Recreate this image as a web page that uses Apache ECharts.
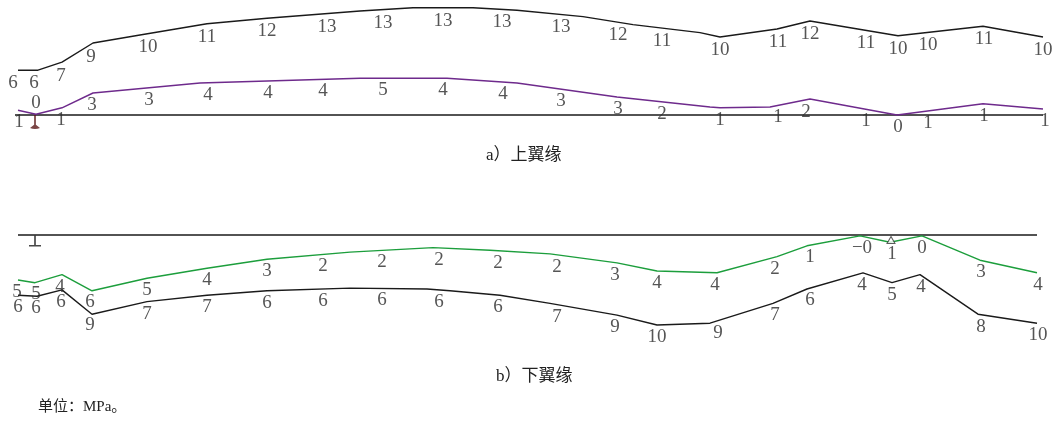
<!DOCTYPE html>
<html><head><meta charset="utf-8">
<script src="https://cdn.jsdelivr.net/npm/echarts@6/dist/echarts.min.js"></script>
<style>html,body{margin:0;padding:0;background:#fff}#c{width:1059px;height:445px}</style>
</head><body><div id="c"></div>
<script>
// ---- Data (stress in MPa along the girder; station units along the span) ----
// a) upper flange — maximum envelope (black)
const upperMaxStations = [18,38,62,93,140,207,267,360,413,473,517,583,633,700,720,777,810,898,983,1043];
const upperMaxValues   = [5.6,5.6,6.6,9.0,10.0,11.4,12.1,13.0,13.4,13.4,13.1,12.3,11.3,10.3,9.75,10.75,11.75,9.9,11.1,9.75];
const upperMaxLabelStations = [13,34,61,91,148,207,267,327,383,443,502,561,618,662,720,778,810,866,898,928,984,1043];
const upperMaxLabels        = ['6','6','7','9','10','11','12','13','13','13','13','13','12','11','10','11','12','11','10','10','11','10'];
// a) upper flange — minimum envelope (purple)
const upperMinStations = [18,36,62,93,200,360,447,517,617,710,720,770,810,897,983,1043];
const upperMinValues   = [0.6,0.1,0.9,2.75,4.0,4.6,4.6,4.0,2.25,1.0,0.9,1.0,2.0,0.0,1.4,0.75];
const upperMinLabelStations = [19,36,61,92,149,208,268,323,383,443,503,561,618,662,720,778,806,866,898,928,984,1045];
const upperMinLabels        = ['1','0','1','3','3','4','4','4','5','4','4','3','3','2','1','1','2','1','0','1','1','1'];
// b) lower flange — green envelope
const lowerMinStations = [18,35,62,92,147,207,267,350,433,490,550,617,657,717,777,807,860,890,922,980,1037];
const lowerMinValues   = [5.0,5.3,4.4,6.2,4.8,3.7,2.7,1.9,1.4,1.7,2.1,3.1,4.0,4.2,2.4,1.2,0.1,0.8,0.1,2.8,4.2];
const lowerMinLabelStations = [17,36,60,90,147,207,267,323,382,439,498,557,615,657,715,775,810,862,892,922,981,1038];
const lowerMinLabels        = ['5','5','4','6','5','4','3','2','2','2','2','2','3','4','4','2','1','−0','1','0','3','4'];
// b) lower flange — black envelope
const lowerMaxStations = [18,37,62,92,147,207,267,350,427,450,500,550,617,657,710,773,807,863,892,920,978,1037];
const lowerMaxValues   = [6.7,6.8,6.1,8.8,7.4,6.7,6.2,5.9,6.0,6.2,6.7,7.6,8.9,10.0,9.8,7.6,6.0,4.2,5.3,4.4,8.8,9.8];
const lowerMaxLabelStations = [18,36,61,90,147,207,267,323,382,439,498,557,615,657,718,775,810,862,892,921,981,1038];
const lowerMaxLabels        = ['6','6','6','9','7','7','6','6','6','6','6','7','9','10','9','7','6','4','5','4','8','10'];
// girder axis and supports
const upperBeamEnds = [15, 1043];
const lowerBeamEnds = [18, 1037];
const upperSupportStations = [35];
const lowerFixedSupportStations = [35];
const lowerRollerSupportStations = [891];
const titles = ['a）上翼缘', 'b）下翼缘'];
const unitNote = '单位：MPa。';

// ---- helpers ----
function interp(xs, ys, x) {
  if (x <= xs[0]) return ys[0];
  if (x >= xs[xs.length - 1]) return ys[ys.length - 1];
  for (let i = 1; i < xs.length; i++) {
    if (x <= xs[i]) {
      const t = (x - xs[i - 1]) / (xs[i] - xs[i - 1]);
      return ys[i - 1] + t * (ys[i] - ys[i - 1]);
    }
  }
}
const pair = (xs, ys) => xs.map((x, i) => [x, ys[i]]);
const labelFont = { fontFamily: 'Liberation Serif, serif', fontSize: 19, color: '#2a2a2a' };

function lineSeries(idx, xs, ys, color) {
  return { type: 'line', xAxisIndex: idx, yAxisIndex: idx, data: pair(xs, ys),
    symbol: 'none', clip: false, lineStyle: { color: color, width: 1.4 }, z: 3 };
}
function labelSeries(idx, lxs, texts, xs, ys, offset, above) {
  above = above || [];
  return { type: 'scatter', xAxisIndex: idx, yAxisIndex: idx, symbolSize: 1, clip: false, z: 5,
    itemStyle: { color: 'rgba(0,0,0,0)' },
    data: lxs.map((x, i) => ({ value: [x, interp(xs, ys, x)],
      label: { offset: [0, above.indexOf(i) >= 0 ? -11 : offset] } })),
    label: Object.assign({ show: true, position: 'inside',
      formatter: p => texts[p.dataIndex] }, labelFont) };
}

const chart = echarts.init(document.getElementById('c'), null, { renderer: 'canvas' });
const hiddenX = { type: 'value', min: 0, max: 1059, show: false, splitLine: { show: false } };
const titleFont = 'Liberation Serif, Noto Sans CJK SC';

chart.setOption({
  animation: false,
  backgroundColor: '#fff',
  grid: [
    { left: 0, right: 0, top: 3, height: 136 },
    { left: 0, right: 0, top: 217, height: 126 }
  ],
  xAxis: [Object.assign({ gridIndex: 0 }, hiddenX), Object.assign({ gridIndex: 1 }, hiddenX)],
  yAxis: [
    { gridIndex: 0, type: 'value', min: -3, max: 14, show: false, splitLine: { show: false } },
    { gridIndex: 1, type: 'value', min: -2, max: 12, inverse: true, show: false, splitLine: { show: false } }
  ],
  series: [
    // girder axes
    { type: 'line', xAxisIndex: 0, yAxisIndex: 0, data: upperBeamEnds.map(x => [x, 0]), symbol: 'none',
      lineStyle: { color: '#1a1a1a', width: 1.4 }, z: 2 },
    { type: 'line', xAxisIndex: 1, yAxisIndex: 1, data: lowerBeamEnds.map(x => [x, 0]), symbol: 'none',
      lineStyle: { color: '#1a1a1a', width: 1.4 }, z: 2 },
    // envelopes
    lineSeries(0, upperMaxStations, upperMaxValues, '#1a1a1a'),
    lineSeries(0, upperMinStations, upperMinValues, '#6e2a8c'),
    lineSeries(1, lowerMinStations, lowerMinValues, '#1c9e3c'),
    lineSeries(1, lowerMaxStations, lowerMaxValues, '#1a1a1a'),
    // value labels
    labelSeries(0, upperMaxLabelStations, upperMaxLabels, upperMaxStations, upperMaxValues, 13),
    labelSeries(0, upperMinLabelStations, upperMinLabels, upperMinStations, upperMinValues, 12, [1]),
    labelSeries(1, lowerMinLabelStations, lowerMinLabels, lowerMinStations, lowerMinValues, 12),
    labelSeries(1, lowerMaxLabelStations, lowerMaxLabels, lowerMaxStations, lowerMaxValues, 12),
    // supports
    { type: 'scatter', xAxisIndex: 0, yAxisIndex: 0, clip: false, z: 6,
      data: upperSupportStations.map(x => [x, 0]),
      symbol: 'path://M4.3,0 H5.7 V9 L9,12 Q5,14 1,12 L4.3,9 Z', symbolSize: [10, 14], symbolOffset: [0, 7],
      itemStyle: { color: '#5a1616' } },
    { type: 'scatter', xAxisIndex: 1, yAxisIndex: 1, clip: false, z: 6,
      data: lowerFixedSupportStations.map(x => [x, 0]),
      symbol: 'path://M4.3,0 H5.7 V9 H10 V10.4 H0 V9 H4.3 Z', symbolSize: [12, 11], symbolOffset: [0, 6],
      itemStyle: { color: '#1a1a1a' } },
    { type: 'scatter', xAxisIndex: 1, yAxisIndex: 1, clip: false, z: 6,
      data: lowerRollerSupportStations.map(x => [x, 0]),
      symbol: 'triangle', symbolSize: [8, 7], symbolOffset: [0, 5],
      itemStyle: { color: '#fff', borderColor: '#333', borderWidth: 1 } }
  ],
  graphic: [
    { type: 'text', left: 486, top: 147, style: { text: titles[0], fontSize: 17,
      fontFamily: titleFont, fill: '#222' } },
    { type: 'text', left: 496, top: 368, style: { text: titles[1], fontSize: 17,
      fontFamily: titleFont, fill: '#222' } },
    { type: 'text', left: 38, top: 400, style: { text: unitNote, fontSize: 15,
      fontFamily: titleFont, fill: '#222' } }
  ]
});
</script></body></html>
